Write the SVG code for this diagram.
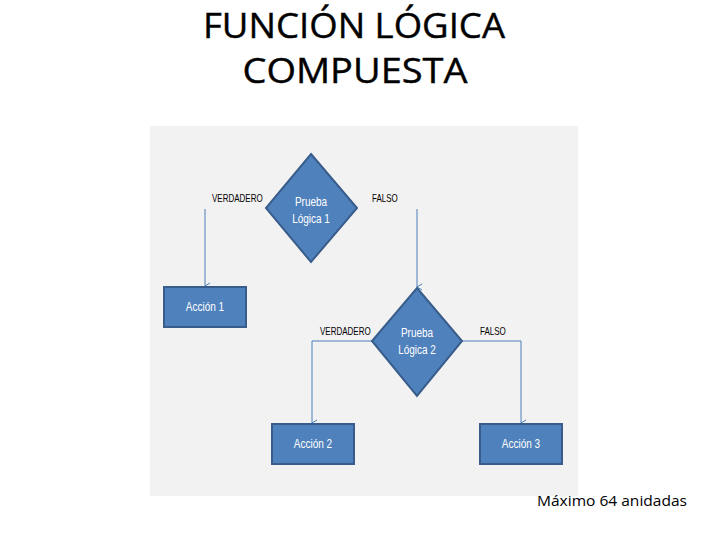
<svg xmlns="http://www.w3.org/2000/svg" width="720" height="540" viewBox="0 0 720 540">
<style>
.shape{fill:#4F81BD;stroke:#385D8A;stroke-width:2}
.in{font-family:"Liberation Sans",Arial,sans-serif;font-size:12.5px;fill:#fff;text-anchor:middle}
.lbl{font-family:"Liberation Sans",Arial,sans-serif;font-size:10px;fill:#000}
.title{font-family:"Open Sans","Liberation Sans",sans-serif;font-size:34px;fill:#000;text-anchor:middle;stroke:#000;stroke-width:0.4}
.conn{fill:none;stroke:#4A7EBB;stroke-width:1;marker-end:url(#arr)}
</style>
<defs>
<marker id="arr" markerWidth="8" markerHeight="8" refX="4" refY="6" orient="auto" markerUnits="userSpaceOnUse" viewBox="0 0 8 8">
<path d="M1,1 L4,6 L7,1" fill="none" stroke="#4A7EBB" stroke-width="1"/>
</marker>
</defs>
<rect width="720" height="540" fill="#fff"/>
<g id="title">
<text class="title" x="354" y="38" textLength="302" lengthAdjust="spacingAndGlyphs">FUNCIÓN LÓGICA</text>
<text class="title" x="355" y="83" textLength="225" lengthAdjust="spacingAndGlyphs">COMPUESTA</text>
</g>
<rect id="panel" x="150" y="126" width="428" height="370" fill="#F2F2F2"/>
<g id="connectors">
<polyline class="conn" points="205,209 205,286"/>
<polyline class="conn" points="417,209 417,287"/>
<polyline class="conn" points="372,341 312,341 312,423"/>
<polyline class="conn" points="462,341 521,341 521,423"/>
</g>
<g id="labels">
<text class="lbl" x="212" y="202" transform="translate(212 0) scale(0.8 1) translate(-212 0)">VERDADERO</text>
<text class="lbl" x="372" y="202" transform="translate(372 0) scale(0.8 1) translate(-372 0)">FALSO</text>
<text class="lbl" x="320" y="335" transform="translate(320 0) scale(0.8 1) translate(-320 0)">VERDADERO</text>
<text class="lbl" x="480" y="335" transform="translate(480 0) scale(0.8 1) translate(-480 0)">FALSO</text>
</g>
<g id="prueba1">
<polygon class="shape" points="311,154 357,208 311,262 266,208"/>
<g transform="translate(311 0) scale(0.8 1)">
<text class="in" x="0" y="206">Prueba</text>
<text class="in" x="0" y="223">Lógica 1</text>
</g>
</g>
<g id="accion1">
<rect class="shape" x="164" y="287" width="82" height="40"/>
<text class="in" transform="translate(205 0) scale(0.8 1)" x="0" y="311">Acción 1</text>
</g>
<g id="prueba2">
<polygon class="shape" points="417,288 462,341 417,396 372,341"/>
<g transform="translate(417 0) scale(0.8 1)">
<text class="in" x="0" y="337">Prueba</text>
<text class="in" x="0" y="354">Lógica 2</text>
</g>
</g>
<g id="accion2">
<rect class="shape" x="272" y="424" width="82" height="40"/>
<text class="in" transform="translate(313 0) scale(0.8 1)" x="0" y="448">Acción 2</text>
</g>
<g id="accion3">
<rect class="shape" x="480" y="424" width="82" height="40"/>
<text class="in" transform="translate(521 0) scale(0.8 1)" x="0" y="448">Acción 3</text>
</g>
<text id="footer" x="537" y="506" font-family="'Open Sans','Liberation Sans',sans-serif" font-size="14.5" fill="#000" textLength="150" lengthAdjust="spacingAndGlyphs">Máximo 64 anidadas</text>
</svg>
